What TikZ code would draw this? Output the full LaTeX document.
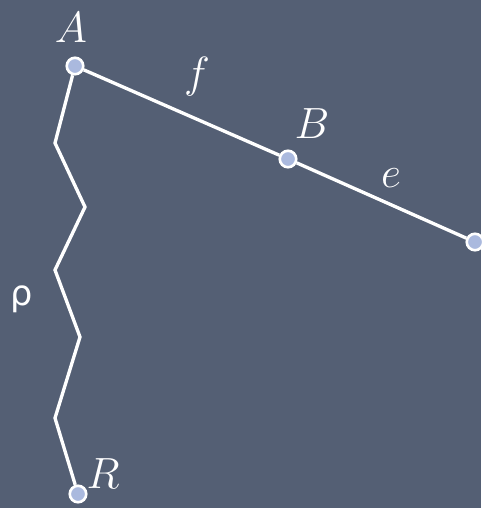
\documentclass[tikz,border=0pt]{standalone}
\usepackage{fontspec}
\newfontfamily\rhofont{DejaVu Sans}
\usetikzlibrary{positioning}

\definecolor{slate}{RGB}{84,95,116}
\definecolor{dotblue}{RGB}{170,185,222}

\begin{document}
\begin{tikzpicture}[
  x=0.02cm, y=-0.02cm,
  every node/.style={text=white, font=\fontsize{23}{27}\selectfont},
  pt/.style={circle, draw=white, fill=dotblue, line width=1.5pt,
    minimum size=0.33cm, inner sep=0pt},
  wire/.style={draw=white, line width=1.9pt}
]

% ============================================================
% Background
% ============================================================
\fill[slate] (0,0) rectangle (481,508);
\useasboundingbox (0,0) rectangle (481,508);

% ============================================================
% Points
% ============================================================
\node[pt] (A) at (75,66) {};
\node[pt] (B) at (288,159) {};
\node[pt] (C) at (475,242) {};
\node[pt] (R) at (78,494) {};

% zigzag corners
\coordinate (z1) at (55,143);
\coordinate (z2) at (85,207);
\coordinate (z3) at (55,270);
\coordinate (z4) at (80,337);
\coordinate (z5) at (55,418);

% ============================================================
% Edges
% ============================================================
\draw[wire] (A) -- (B);
\draw[wire] (B) -- (C);
\draw[wire, line join=miter] (A) -- (z1) -- (z2) -- (z3) -- (z4) -- (z5) -- (R);

% ============================================================
% Labels
% ============================================================
\node (lA) at (71,28) {$A$};
\node (lB) at (312,124) {$B$};
\node (lR) at (103,474) {$R$};
\node (lf) at (197,77) {$f$};
\node (le) at (391,178) {$e$};
\node[font=\rhofont\fontsize{20}{24}\selectfont] (lrho) at (22,299) {ρ};

\end{tikzpicture}
\end{document}
